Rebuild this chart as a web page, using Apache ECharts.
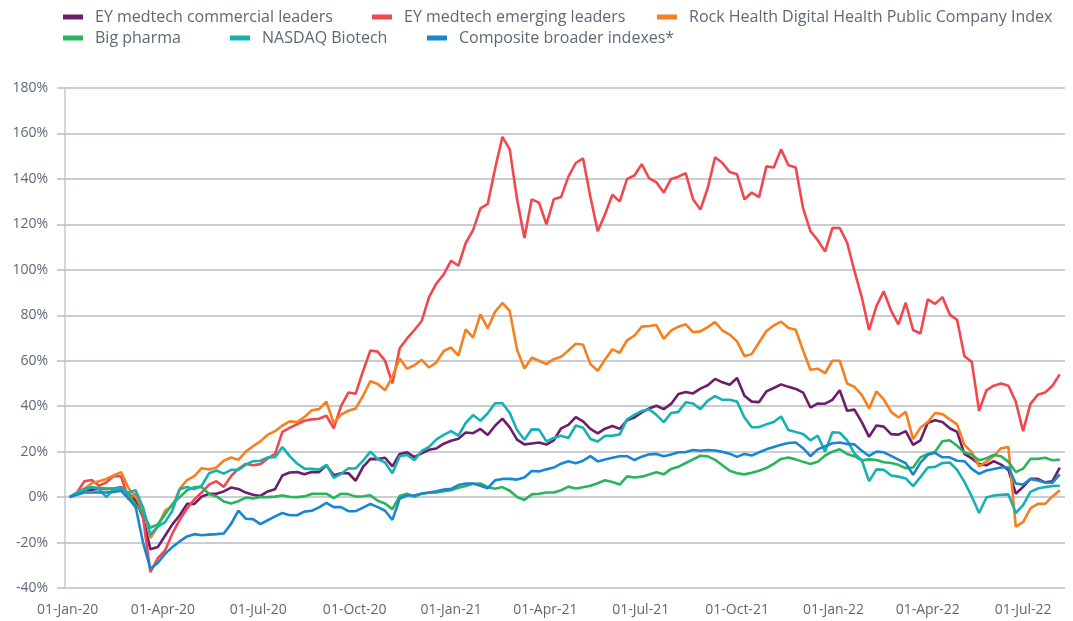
<!DOCTYPE html>
<html>
<head>
<meta charset="utf-8">
<script src="https://cdn.jsdelivr.net/npm/echarts@6/dist/echarts.min.js"></script>
<style>
html,body{margin:0;padding:0;background:#fff;}
#chart{width:1073px;height:621px;}
</style>
</head>
<body>
<div id="chart"></div>
<script>
// Weekly observations (Fridays) starting 03-Jan-2020
const startDate = Date.UTC(2020, 0, 3);
const stepDays = 7;

const seriesNames = [
  'EY medtech commercial leaders',
  'EY medtech emerging leaders',
  'Rock Health Digital Health Public Company Index',
  'Big pharma',
  'NASDAQ Biotech',
  'Composite broader indexes*'
];

const medtechCommercial = [
  0,1.5,3,3.3,3.6,3.6,3.8,4.3,1.5,-1.5, -9,-23,-22,-17,-12,-8,-3,-3,0.2,1.5, 1.5,2.5,4.2,3.6,2,1,0.5,2.5,3.5,9.5, 10.8,11,10,11,11,
  14,9.6,10.5,10.5,7.2,13.3,16.8,16.7,17.3,13.5, 19,19.7,17.6,19.3,20.8,21.4,23.5,24.8,25.7,28.4, 28.1,30,27.3,31.4,34.5,30.7,25.3,23.2,23.6,24, 23.1,25,30.2,31.8,
  35.2,33.3,30,28,30.1,31.3,30,33.8,35,37.3, 39,40.2,38.7,41,45.4,46.2,45.6,47.7,49.2,52, 50.5,49.4,52.4,44.6,42,41.8,46.5,48,49.6,48.5, 47.6,46,39.4,41.2,
  41.1,42.8,47,38,38.5,33,26.5,31.5,31,27.7, 27.5,29,23,25,32.7,33.8,33,30.3,28.7,19, 17,14.5,14,15.8,14.3,12,1.5,4.5,8,8, 6.5,7,13
];

const medtechEmerging = [
  0,2,7,7.5,5,6.5,9.3,9.2,-1,1.5, -9,-33,-27,-23.5,-16,-10,-5,-1,2,5.5, 7,4.5,9.2,12.4,14.6,14,14.5,17,19,28.7, 30.5,32,33.6,34.2,34.5,
  35.8,30.3,40,46,45.5,55.5,64.5,64,60,50, 65.5,69.8,73.5,77.5,88,94,98,104,101.8,111.8, 117.5,127,129,144.5,158.5,153,131,114,131,129.5, 120,131,132,141,
  147,149,132,117,124.5,133,130,140,141.5,146.5, 140.3,138.5,134,140,141,142.5,131,126.5,136,149.5, 147,143,142,131,134,132,145.5,145,153,146, 145,127,117,113,
  108,118.4,118.4,112,99.5,88,73.5,84,90.5,82, 76,85.5,73.5,72,87,85,88,80.3,78,62, 59.5,38,47,49,50,49,42,29,41,45, 46,49,54
];

const rockHealth = [
  0,2,3.7,6.1,7,8,9.5,11,4,0, -4.5,-18,-13,-6,-4,3.6,7.5,9.2,12.7,12.1, 13,16,17.4,16.4,20,22.4,24.5,27.5,29,31.5, 33.3,33,35.2,38.2,38.7,
  42,32.5,36.3,38,39,44.6,51,49.8,47,53, 61,56.5,58,60.4,57,59.3,64.3,65.8,62.2,73.8, 70.2,80.4,74.2,81.5,85.4,81.9,64.8,56.6,61.3,60, 58.5,60.7,61.7,64.5,
  67.5,67,58.5,55.6,60.5,65,63.5,69,71,75, 75.3,75.7,69.6,73.2,75,76,72.6,72.9,74.8,77, 73.3,71.5,68.5,62,63,68,73.1,75.5,77.2,74.4, 73.6,64.5,56,56.5,
  54.5,60,60,50,48.5,45,39,46.5,43,37.5, 35,37.5,25.5,30.5,33,37,36.5,34.2,32,23, 19.8,13.5,15.6,18,21.5,22,-13,-11,-5,-3, -3,0.3,3
];

const bigPharma = [
  0,1.5,3,4.4,4,3.6,3.6,4.1,1.5,-3.5, -7,-13.5,-12,-7.6,-3,0,3,4.4,4.4,1.4, 0.3,-1.9,-2.8,-1.8,-0.2,-0.6,0,0,0.2,0.7, 0.1,0,0.3,1.4,1.5,
  1.5,-0.5,1.5,1.3,0.2,0.4,0.8,-1.6,-2.8,-5.3, 0.5,1.5,0.1,1.5,1.9,2,2.6,3,4.1,4.9, 5.9,6,4.4,3.7,4.4,2.8,0,-1.3,1.2,1.5, 2,2,3,4.6,
  3.8,4.3,5,6.1,7.4,6.6,5.5,9.1,8.6,9, 9.9,10.9,10,12.4,13.3,15,16.6,18.2,17.9,16.4, 14,11.6,10.5,10,10.7,11.6,12.8,14.6,16.8,17.4, 16.6,15.5,14.6,15.5,
  18.3,20,21,19,18,16.2,16.6,16.3,15.3,15, 14.2,12.7,13,17.5,19,20,24.6,25,22.6,19.6, 18.6,16.2,17.1,18.5,18,15.5,11,12.5,16.8,16.8, 17.3,16.2,16.5
];

const nasdaqBiotech = [
  0,2,3.6,4.4,3.4,0,3.5,3.9,2,3, -4.7,-16.5,-13,-11,-6,3.5,4.4,3.5,5,10.5, 11.7,10.3,12,12,14.3,15.8,16,17.4,17.5,22, 18,14.8,12.5,12.4,12.1,
  14.2,8.5,10.2,12.7,12.6,16,20,16.7,15.2,10.5, 18,18.5,16.2,20.3,22.1,25.4,27.4,29,27,32.6, 36.1,33.6,36.9,41.3,41.3,37,29.5,25.2,29.8,29.7, 24.5,26,27,26,
  31.5,30.5,25.6,24.5,27,27,27.6,34.2,36.2,37.9, 38.6,36.2,33,37,37.5,41.7,41.2,38.7,42.4,44.4, 42.8,42.8,42,35,30.7,30.8,32,33,35.5,29.5, 28.6,27.8,25,27,
  20,28.5,28.3,25,19.2,16.2,7,12.2,12,9.5, 9,8.2,4.8,8.8,13,13.3,15,15.2,12,6.7, 0.3,-7,-0.2,0.7,1,1.2,-7,-3.5,2.3,3.8, 4.4,4.9,5
];

const compositeBroader = [
  0,1,2,2,2,2,2.3,2.8,-0.5,-4.5, -20,-31.5,-29,-25,-22,-19.5,-17.3,-16.3,-16.8,-16.5, -16.3,-16,-11.8,-6,-9.5,-9.7,-11.9,-10.2,-8.5,-7, -8,-8,-6.4,-6,-4.5,
  -2.5,-4.4,-4.4,-6.2,-6.2,-4.6,-3,-4.4,-6,-10, -0.7,0.7,0.7,1.6,2,2.6,3.3,3.6,5.3,6, 6,5,3.9,7.4,8,8,7.7,8.6,11.5,11.3, 12.2,13,14.7,15.8,
  14.9,16,18,15.7,16.5,17.3,18,18,16.3,17.8, 18.8,19,18,18.7,19.7,19.8,20.7,20.4,20.7,20.5, 19.9,19.1,17.7,19,18.3,19.7,21,22,23,23.8, 24,21.5,18,21,
  22.4,23.7,24,23.4,23.2,20.4,18.1,20,19.7,18.1, 16.5,14.9,9.8,15.2,18.6,19.5,17.5,17.5,16,15.8, 12.4,10.2,11.7,12.4,13,13,6,5.5,8,7.3, 6.4,6.3,10
];

const xTickDates = ['2020-01-01','2020-04-01','2020-07-01','2020-10-01','2021-01-01','2021-04-01',
                    '2021-07-01','2021-10-01','2022-01-01','2022-04-01','2022-07-01'];
const yMin = -40, yMax = 180, yStep = 20;

const colors = ['#6c1d6b', '#f0484e', '#f4801f', '#2bb45d', '#17b0b3', '#1a86d0'];
const allValues = [medtechCommercial, medtechEmerging, rockHealth, bigPharma, nasdaqBiotech, compositeBroader];

const DAY = 86400000;
function toPairs(vals) {
  return vals.map((v, i) => [startDate + i * stepDays * DAY, v]);
}
const MONTHS = ['Jan','Feb','Mar','Apr','May','Jun','Jul','Aug','Sep','Oct','Nov','Dec'];
function fmtDate(ts) {
  const d = new Date(ts);
  const dd = String(d.getUTCDate()).padStart(2, '0');
  const yy = String(d.getUTCFullYear()).slice(2);
  return dd + '-' + MONTHS[d.getUTCMonth()] + '-' + yy;
}
const tickTs = xTickDates.map(s => Date.parse(s + 'T00:00:00Z'));

const FONT = '"Open Sans", "Noto Sans", sans-serif';
const textColor = '#5e6975';

const legendPos = [
  {left: 63, top: 9},
  {left: 372, top: 9},
  {left: 657, top: 9},
  {left: 63, top: 30},
  {left: 230, top: 30},
  {left: 427, top: 30}
];

const chart = echarts.init(document.getElementById('chart'), null, {renderer: 'canvas'});
chart.setOption({
  animation: false,
  backgroundColor: '#ffffff',
  color: colors,
  legend: seriesNames.map((n, i) => ({
    data: [n],
    left: legendPos[i].left,
    top: legendPos[i].top,
    padding: 0,
    itemWidth: 20,
    itemHeight: 5,
    icon: 'rect',
    textStyle: {fontFamily: FONT, fontSize: 16, color: textColor, padding: [0, 0, 0, 7]}
  })),
  grid: {left: 65, right: 8, top: 88, bottom: 33, containLabel: false},
  xAxis: {
    type: 'value',
    min: Date.UTC(2019, 11, 29, 12),
    max: Date.UTC(2022, 7, 10),
    axisLine: {show: false},
    axisTick: {show: false},
    splitLine: {show: false},
    axisLabel: {
      customValues: tickTs,
      formatter: v => fmtDate(v),
      fontFamily: FONT, fontSize: 14, color: textColor, margin: 15,
      showMinLabel: true, showMaxLabel: true
    }
  },
  yAxis: {
    type: 'value',
    min: yMin, max: yMax, interval: yStep,
    axisLine: {show: true, lineStyle: {color: '#c6cad0', width: 1.5}},
    axisTick: {show: true, length: 8, lineStyle: {color: '#b8bdc4', width: 1.5}},
    splitLine: {show: true, lineStyle: {color: '#b8bdc4', width: 1.5}},
    axisLabel: {
      formatter: '{value}%',
      fontFamily: FONT, fontSize: 14, color: textColor, margin: 17
    }
  },
  series: seriesNames.map((n, i) => ({
    name: n,
    type: 'line',
    data: toPairs(allValues[i]),
    showSymbol: false,
    symbol: 'none',
    lineStyle: {width: 2.6, color: colors[i]},
    itemStyle: {color: colors[i]},
    emphasis: {disabled: true}
  }))
});
</script>
</body>
</html>
